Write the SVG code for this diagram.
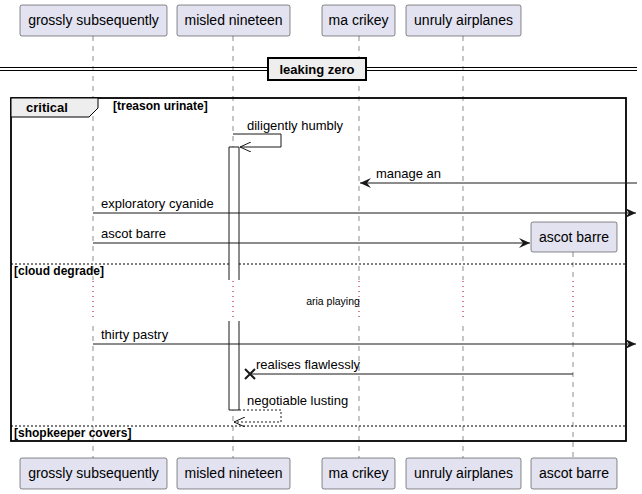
<svg xmlns="http://www.w3.org/2000/svg" width="642" height="494" viewBox="0 0 642 494">
<style>
.p{fill:#E2E2F0;stroke:#181818;stroke-width:0.5}
.pt{font-family:"Liberation Sans",Arial,sans-serif;font-size:14px;fill:#000}
.ll{stroke:#181818;stroke-width:0.5;stroke-dasharray:5,5}
.dl{stroke:#A80036;stroke-width:1;stroke-dasharray:1,4}
.m{stroke:#181818;stroke-width:1;fill:none}
.mt{font-family:"Liberation Sans",Arial,sans-serif;font-size:13px;fill:#000}
.b{font-family:"Liberation Sans",Arial,sans-serif;font-size:12px;font-weight:bold;fill:#000}
.sep{stroke:#000;stroke-width:1;stroke-dasharray:2,2}
</style>
<defs>
<marker id="fa" markerWidth="12" markerHeight="10" refX="11" refY="5" orient="auto" markerUnits="userSpaceOnUse"><path d="M0,0 L11,5 L0,10 L4,5 Z" fill="#181818"/></marker>
<marker id="oa" markerWidth="12" markerHeight="10" refX="11" refY="5" orient="auto" markerUnits="userSpaceOnUse"><path d="M0,0 L11,5 L0,10" fill="none" stroke="#181818" stroke-width="1"/></marker>
</defs>
<g id="lifelines">
<line class="ll" x1="93" y1="36" x2="93" y2="458"/>
<line class="ll" x1="233" y1="36" x2="233" y2="458"/>
<line class="ll" x1="359" y1="36" x2="359" y2="458"/>
<line class="ll" x1="463" y1="36" x2="463" y2="458"/>
<line class="ll" x1="573" y1="252" x2="573" y2="458"/>
<rect x="90" y="280" width="7" height="41" fill="#fff"/>
<rect x="229" y="280" width="10" height="41" fill="#fff"/>
<rect x="356" y="280" width="7" height="41" fill="#fff"/>
<rect x="460" y="280" width="7" height="41" fill="#fff"/>
<rect x="570" y="280" width="7" height="41" fill="#fff"/>
<line class="dl" x1="93" y1="281" x2="93" y2="321"/>
<line class="dl" x1="233" y1="281" x2="233" y2="321"/>
<line class="dl" x1="359" y1="281" x2="359" y2="321"/>
<line class="dl" x1="463" y1="281" x2="463" y2="321"/>
<line class="dl" x1="573" y1="281" x2="573" y2="321"/>
</g>
<g id="divider">
<line x1="0" y1="67.5" x2="637" y2="67.5" stroke="#000" stroke-width="1"/>
<line x1="0" y1="70.5" x2="637" y2="70.5" stroke="#000" stroke-width="1"/>
<rect x="268" y="58" width="98" height="22" fill="#EEEEEE" stroke="#000" stroke-width="2"/>
<text x="317" y="74" text-anchor="middle" class="b" style="font-size:13px">leaking zero</text>
</g>
<g id="frame">
<rect x="11" y="98" width="615" height="343" fill="none" stroke="#000" stroke-width="1.8"/>
<path d="M11,98 L98,98 L98,108 L89,117 L11,117 Z" fill="#EEEEEE" stroke="#000" stroke-width="1"/>
<text x="26" y="112" class="b" style="font-size:13px">critical</text>
<text x="113" y="110" class="b">[treason urinate]</text>
<line class="sep" x1="11" y1="264" x2="626" y2="264"/>
<text x="14" y="275" class="b">[cloud degrade]</text>
<line class="sep" x1="11" y1="426" x2="626" y2="426"/>
<text x="14" y="437" class="b">[shopkeeper covers]</text>
</g>
<g id="activations">
<path d="M229,280 L229,147 L239,147 L239,280" fill="#fff" stroke="#181818" stroke-width="1"/>
<path d="M229,321 L229,410 L239,410 L239,321" fill="#fff" stroke="#181818" stroke-width="1"/>
</g>
<g id="connectors">
<polyline class="m" points="233,134 281,134 281,147 240,147" marker-end="url(#oa)"/>
<text x="247" y="130" class="mt">diligently humbly</text>
<line class="m" x1="637" y1="183" x2="360" y2="183" marker-end="url(#fa)"/>
<text x="376" y="178" class="mt">manage an</text>
<line class="m" x1="93" y1="213" x2="636" y2="213" marker-end="url(#fa)"/>
<text x="101" y="208" class="mt">exploratory cyanide</text>
<line class="m" x1="93" y1="243" x2="530" y2="243" marker-end="url(#fa)"/>
<text x="101" y="238" class="mt">ascot barre</text>
<text x="333" y="305" text-anchor="middle" class="mt" style="font-size:10.5px">aria playing</text>
<line class="m" x1="93" y1="344" x2="636" y2="344" marker-end="url(#fa)"/>
<text x="101" y="339" class="mt">thirty pastry</text>
<line class="m" x1="573" y1="374" x2="250" y2="374"/>
<path d="M245,369 L255,379 M255,369 L245,379" stroke="#181818" stroke-width="2"/>
<text x="256" y="369" class="mt">realises flawlessly</text>
<polyline class="m" points="239,410 281,410 281,422 234,422" stroke-dasharray="2,2" marker-end="url(#oa)"/>
<text x="247" y="405" class="mt">negotiable lusting</text>
</g>
<g id="p1"><rect class="p" x="20" y="5" width="147" height="31" rx="2"/><text class="pt" x="93.5" y="25" text-anchor="middle">grossly subsequently</text></g>
<g id="p2"><rect class="p" x="177" y="5" width="113" height="31" rx="2"/><text class="pt" x="233.5" y="25" text-anchor="middle">misled nineteen</text></g>
<g id="p3"><rect class="p" x="322" y="5" width="73" height="31" rx="2"/><text class="pt" x="358.5" y="25" text-anchor="middle">ma crikey</text></g>
<g id="p4"><rect class="p" x="406" y="5" width="115" height="31" rx="2"/><text class="pt" x="463.5" y="25" text-anchor="middle">unruly airplanes</text></g>
<g id="p5"><rect class="p" x="531" y="222" width="86" height="30" rx="2"/><text class="pt" x="574" y="242" text-anchor="middle">ascot barre</text></g>
<g id="p1b"><rect class="p" x="20" y="458" width="147" height="31" rx="2"/><text class="pt" x="93.5" y="478" text-anchor="middle">grossly subsequently</text></g>
<g id="p2b"><rect class="p" x="177" y="458" width="113" height="31" rx="2"/><text class="pt" x="233.5" y="478" text-anchor="middle">misled nineteen</text></g>
<g id="p3b"><rect class="p" x="322" y="458" width="73" height="31" rx="2"/><text class="pt" x="358.5" y="478" text-anchor="middle">ma crikey</text></g>
<g id="p4b"><rect class="p" x="406" y="458" width="115" height="31" rx="2"/><text class="pt" x="463.5" y="478" text-anchor="middle">unruly airplanes</text></g>
<g id="p5b"><rect class="p" x="531" y="458" width="86" height="31" rx="2"/><text class="pt" x="574" y="478" text-anchor="middle">ascot barre</text></g>
</svg>
